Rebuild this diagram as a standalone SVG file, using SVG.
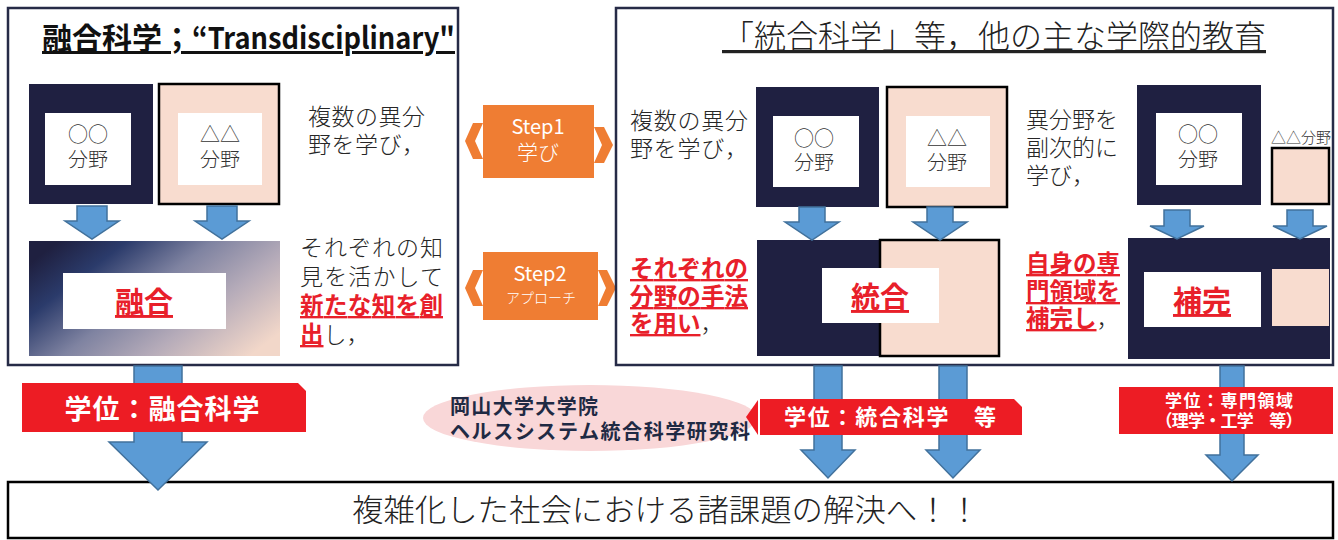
<svg xmlns="http://www.w3.org/2000/svg" width="1338" height="540" viewBox="0 0 1338 540">
<defs>
<style>
text{font-family:"Noto Sans CJK JP","Noto Sans",sans-serif;}
.panel{fill:#fff;stroke:#262b47;stroke-width:2.5;}
.dark{fill:#1f2041;}
.peach{fill:#f8dccf;stroke:#000;stroke-width:2.5;}
.peachf{fill:#f8dccf;}
.white{fill:#fff;}
.body{font-size:23px;fill:#262626;font-weight:300;}
.red{font-size:23.5px;fill:#e8202a;font-weight:700;text-decoration:underline;}
.lbl{font-size:20px;fill:#333;font-weight:300;text-anchor:middle;}
.big{font-size:29px;fill:#e8202a;font-weight:700;text-anchor:middle;text-decoration:underline;}
.arrow{fill:#5b9bd5;stroke:#41719c;stroke-width:1.5;}
.orange{fill:#ef7d33;}
.step{fill:#fff;text-anchor:middle;}
.banner{fill:#ed1c24;}
.btxt{fill:#fff;font-weight:700;text-anchor:middle;}
</style>
<linearGradient id="fuse" x1="0" y1="0.2" x2="1" y2="0.8">
<stop offset="0" stop-color="#1f2040"/>
<stop offset="0.2" stop-color="#2b3b6b"/>
<stop offset="0.45" stop-color="#7f83a1"/>
<stop offset="0.7" stop-color="#b5abb9"/>
<stop offset="1" stop-color="#f2d7c9"/>
</linearGradient>
</defs>

<!-- Left panel -->
<g id="panel-left">
<rect class="panel" x="8" y="8" width="450" height="357"/>
<text x="42" y="49" font-size="30" font-weight="700" fill="#111" text-decoration="underline" textLength="150" lengthAdjust="spacingAndGlyphs">融合科学；</text>
<text x="192" y="49" font-size="30" font-weight="700" fill="#111" text-decoration="underline" textLength="263" lengthAdjust="spacingAndGlyphs">“Transdisciplinary"</text>
</g>
<g id="left-field1">
<rect class="dark" x="29" y="84" width="124" height="120"/>
<rect class="white" x="45" y="113" width="86" height="72"/>
<text class="lbl" x="88" y="142">○○</text>
<text class="lbl" x="88" y="167">分野</text>
</g>
<g id="left-field2">
<rect class="peach" x="159" y="84" width="120" height="120"/>
<rect class="white" x="178" y="113" width="84" height="72"/>
<text class="lbl" x="220" y="142">△△</text>
<text class="lbl" x="220" y="167">分野</text>
</g>
<g id="left-text1">
<text class="body" x="308" y="125" textLength="117">複数の異分</text>
<text class="body" x="308" y="153" textLength="117">野を学び，</text>
</g>
<g id="left-fusion">
<rect x="29" y="241" width="251" height="115" fill="url(#fuse)"/>
<rect class="white" x="63" y="273" width="163" height="56"/>
<text class="big" x="144" y="313">融合</text>
</g>
<g id="left-text2">
<text class="body" x="300" y="256" textLength="143">それぞれの知</text>
<text class="body" x="300" y="285" textLength="143">見を活かして</text>
<text class="red" x="300" y="314" textLength="143">新たな知を創</text>
<text x="300" y="343"><tspan class="red">出</tspan><tspan class="body">し，</tspan></text>
</g>

<!-- Steps -->
<g id="step1">
<polygon class="orange" points="473,123 483,123 475,141 483,159 473,159 465,141"/>
<rect class="orange" x="483" y="105" width="111" height="73"/>
<polygon class="orange" points="594,127 604,127 613,145 604,163 594,163 602,145"/>
<text class="step" x="538" y="134" font-size="20">Step1</text>
<text class="step" x="538" y="160" font-size="21" font-weight="300">学び</text>
</g>
<g id="step2">
<polygon class="orange" points="473,270 483,270 475,288 483,306 473,306 465,288"/>
<rect class="orange" x="483" y="252" width="115" height="68"/>
<polygon class="orange" points="598,270 607,270 616,288 607,306 598,306 606,288"/>
<text class="step" x="540" y="281" font-size="20">Step2</text>
<text class="step" x="541" y="303" font-size="14" font-weight="300">アプローチ</text>
</g>

<!-- Right panel -->
<g id="panel-right">
<rect class="panel" x="616" y="8" width="717" height="357"/>
<text x="722" y="48" font-size="32" font-weight="300" fill="#222" text-decoration="underline" textLength="544" lengthAdjust="spacingAndGlyphs">「統合科学」等，他の主な学際的教育</text>
</g>
<g id="right-text1">
<text class="body" x="630" y="129" textLength="118">複数の異分</text>
<text class="body" x="630" y="157" textLength="118">野を学び，</text>
</g>
<g id="right-field1">
<rect class="dark" x="756" y="87" width="123" height="120"/>
<rect class="white" x="773" y="116" width="86" height="71"/>
<text class="lbl" x="814" y="146">○○</text>
<text class="lbl" x="814" y="170">分野</text>
</g>
<g id="right-field2">
<rect class="peach" x="887" y="87" width="120" height="120"/>
<rect class="white" x="906" y="116" width="84" height="71"/>
<text class="lbl" x="947" y="146">△△</text>
<text class="lbl" x="947" y="170">分野</text>
</g>
<g id="right-text2">
<text class="red" x="630" y="277" textLength="118">それぞれの</text>
<text class="red" x="630" y="305" textLength="118">分野の手法</text>
<text x="630" y="332"><tspan class="red">を用い</tspan><tspan class="body">，</tspan></text>
</g>
<g id="right-integrate">
<rect class="dark" x="757" y="240" width="123" height="116"/>
<rect class="peach" x="880" y="240" width="119" height="116"/>
<rect class="white" x="822" y="268" width="117" height="55"/>
<text class="big" x="880" y="308">統合</text>
</g>

<g id="third-text1">
<text class="body" x="1026" y="128" textLength="92">異分野を</text>
<text class="body" x="1026" y="156" textLength="92">副次的に</text>
<text class="body" x="1026" y="184">学び，</text>
</g>
<g id="third-field1">
<rect class="dark" x="1137" y="85" width="124" height="120"/>
<rect class="white" x="1156" y="113" width="86" height="72"/>
<text class="lbl" x="1198" y="142">○○</text>
<text class="lbl" x="1198" y="167">分野</text>
</g>
<g id="third-field2">
<text x="1301" y="143" font-size="15" fill="#333" font-weight="300" text-anchor="middle">△△分野</text>
<rect class="peach" x="1272" y="148" width="57" height="56" stroke-width="3"/>
</g>
<g id="third-text2">
<text class="red" x="1026" y="272" textLength="94">自身の専</text>
<text class="red" x="1026" y="300" textLength="94">門領域を</text>
<text x="1026" y="327"><tspan class="red">補完し</tspan><tspan class="body">，</tspan></text>
</g>
<g id="third-complement">
<rect class="dark" x="1128" y="238" width="202" height="121"/>
<rect class="white" x="1144" y="272" width="117" height="55"/>
<rect class="peachf" x="1272" y="269" width="57" height="57"/>
<text class="big" x="1202" y="312">補完</text>
</g>

<!-- Bottom box -->
<g id="goal">
<rect x="8" y="482" width="1325" height="56" fill="#fff" stroke="#000" stroke-width="2.5"/>
<text x="352" y="521" font-size="31" font-weight="300" fill="#222" textLength="628" lengthAdjust="spacingAndGlyphs">複雑化した社会における諸課題の解決へ！！</text>
</g>

<!-- Connectors -->
<g id="connectors">
<path class="arrow" d="M77,206H107V221H119L92,239L65,221H77Z"/>
<path class="arrow" d="M207,206H237V221H249L222,239L195,221H207Z"/>
<path class="arrow" d="M799,207H825V222H839L812,240L785,222H799Z"/>
<path class="arrow" d="M927,207H953V222H967L940,240L913,222H927Z"/>
<path class="arrow" d="M1164,210H1190V226H1204L1177,239L1150,226H1164Z"/>
<path class="arrow" d="M1287,210H1313V226H1327L1300,239L1273,226H1287Z"/>
<path class="arrow" d="M134,366H182V442H207L158,490L109,442H134Z"/>
<path class="arrow" d="M814,366H842V450H855L828,478L801,450H814Z"/>
<path class="arrow" d="M939,366H967V450H980L953,478L926,450H939Z"/>
<path class="arrow" d="M1220,366H1244V455H1258L1232,481L1206,455H1220Z"/>
</g>

<!-- Degree banners -->
<g id="degree-left">
<polygon class="banner" points="22,383 298,383 306,391 306,432 22,432"/>
<text class="btxt" x="162" y="419" font-size="27" textLength="195">学位：融合科学</text>
</g>
<g id="school">
<ellipse cx="590" cy="418" rx="167" ry="33" fill="#f9d7d8"/>
<text x="450" y="414" font-size="20" font-weight="700" fill="#1f2a44" textLength="148">岡山大学大学院</text>
<text x="450" y="439" font-size="20" font-weight="700" fill="#1f2a44" textLength="300">ヘルスシステム統合科学研究科</text>
</g>
<g id="degree-mid">
<polygon class="banner" points="746,417 758,400 758,435"/>
<polygon class="banner" points="760,399 1014,399 1022,407 1022,435 760,435"/>
<text class="btxt" x="890" y="425" font-size="22" textLength="212">学位：統合科学　等</text>
</g>
<g id="degree-right">
<rect class="banner" x="1119" y="387" width="214" height="47"/>
<text class="btxt" x="1229" y="407" font-size="17" textLength="128">学位：専門領域</text>
<text class="btxt" x="1229" y="427" font-size="17" textLength="147">（理学・工学　等）</text>
</g>
</svg>
